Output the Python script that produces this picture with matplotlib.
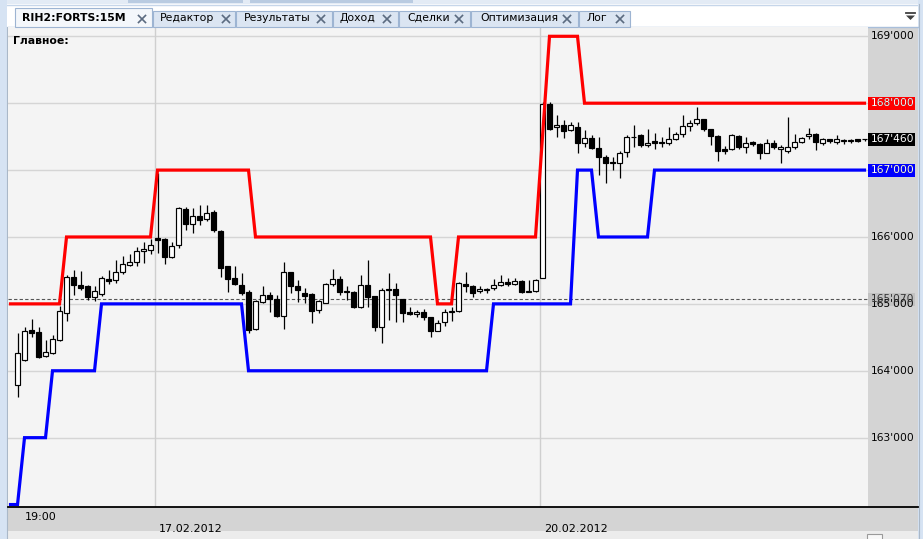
import numpy as np
import matplotlib
matplotlib.use("Agg")
import matplotlib.pyplot as plt
from matplotlib.patches import Rectangle, Polygon
from matplotlib.lines import Line2D

plt.rcParams['font.family'] = ['DejaVu Sans']

# ---------------- data ----------------
opens = [163780, 164160, 164610, 164580, 164220, 164260, 164460, 164870, 165400, 165280,
         165270, 165100, 165150, 165370, 165350, 165470, 165580, 165620, 165790, 165800,
         165990, 165970, 165700, 165880, 166420, 166190, 166310, 166270, 166370, 166090,
         165570, 165380, 165280, 165180, 164620, 165030, 165130, 165080, 164820, 165470,
         165270, 165170, 165150, 164910, 165020, 165290, 165370, 165190, 165180, 164960,
         165280, 165120, 164650, 165220, 165220, 165070, 164880, 164850, 164880, 164810,
         164600, 164730, 164880, 164900, 165290, 165270, 165190, 165210, 165230, 165280,
         165320, 165290, 165340, 165180, 165190, 165380, 167990, 167640, 167670, 167600,
         167650, 167410, 167480, 167330, 167200, 167120, 167100, 167270, 167490, 167530,
         167370, 167430, 167420, 167400, 167460, 167540, 167660, 167700, 167760, 167610,
         167510, 167310, 167310, 167510, 167340, 167420, 167390, 167260, 167410, 167320,
         167280, 167350, 167420, 167510, 167540, 167400, 167460, 167420, 167440, 167440,
         167460, 167460]
highs = [164560, 164650, 164770, 164660, 164460, 164530, 164970, 165430, 165500, 165490,
         165280, 165260, 165420, 165500, 165660, 165710, 165750, 165850, 165920, 165970,
         166950, 165980, 165930, 166450, 166450, 166440, 166480, 166480, 166400, 166100,
         165570, 165560, 165460, 165210, 165060, 165260, 165180, 165130, 165630, 165480,
         165360, 165230, 165160, 165060, 165310, 165520, 165410, 165260, 165190, 165430,
         165660, 165120, 165230, 165460, 165310, 165080, 164960, 164910, 164930, 164810,
         164760, 164930, 164960, 165320, 165480, 165280, 165260, 165230, 165370, 165430,
         165380, 165380, 165360, 165350, 165370, 168020, 168020, 167820, 167750, 167720,
         167720, 167600, 167530, 167500, 167230, 167200, 167280, 167530, 167670, 167540,
         167620, 167550, 167500, 167650, 167570, 167820, 167750, 167940, 167770, 167620,
         167520, 167360, 167540, 167520, 167500, 167440, 167400, 167470, 167450, 167380,
         167790, 167540, 167500, 167630, 167550, 167480, 167460, 167520, 167470, 167470,
         167460, 167470]
lows = [163610, 164140, 164510, 164190, 164210, 164250, 164440, 164740, 165130, 165210,
        165060, 165050, 165120, 165300, 165310, 165450, 165560, 165560, 165610, 165750,
        165760, 165600, 165690, 165830, 166100, 166060, 166180, 166240, 166080, 165400,
        165180, 165280, 165130, 164560, 164610, 165010, 164880, 164810, 164620, 165160,
        165030, 165010, 164720, 164860, 165010, 165260, 165140, 165060, 164940, 164940,
        164960, 164590, 164410, 164760, 164730, 164730, 164830, 164810, 164760, 164510,
        164590, 164670, 164750, 164880, 165180, 165110, 165160, 165160, 165210, 165260,
        165270, 165280, 165160, 165180, 165180, 165380, 167600, 167500, 167480, 167580,
        167260, 167340, 167310, 166930, 166800, 167000, 166880, 167200, 167350, 167350,
        167340, 167310, 167340, 167370, 167450, 167490, 167580, 167670, 167590, 167380,
        167130, 167240, 167300, 167310, 167250, 167360, 167170, 167250, 167310, 167110,
        167260, 167320, 167400, 167470, 167300, 167380, 167410, 167390, 167390, 167400,
        167420, 167440]
closes = [164260, 164600, 164570, 164210, 164280, 164470, 164890, 165400, 165280, 165240,
          165110, 165190, 165380, 165340, 165480, 165590, 165630, 165790, 165820, 165880,
          165960, 165700, 165870, 166430, 166190, 166310, 166250, 166360, 166100, 165540,
          165370, 165300, 165160, 164610, 165040, 165130, 165070, 164820, 165470, 165270,
          165200, 165120, 164900, 165040, 165300, 165370, 165180, 165180, 164960, 165280,
          165100, 164650, 165200, 165200, 165130, 164870, 164850, 164880, 164800, 164600,
          164710, 164880, 164900, 165310, 165260, 165170, 165220, 165220, 165280, 165320,
          165290, 165340, 165180, 165190, 165360, 167990, 167620, 167670, 167580, 167670,
          167400, 167480, 167330, 167190, 167100, 167100, 167260, 167500, 167500, 167370,
          167410, 167410, 167410, 167460, 167540, 167660, 167710, 167770, 167610, 167510,
          167290, 167290, 167520, 167340, 167410, 167390, 167260, 167410, 167340, 167350,
          167350, 167420, 167480, 167540, 167420, 167460, 167430, 167460, 167440, 167440,
          167440, 167460]

# channel lines start one bar before the first visible candle
channel_start = -1
upper_channel = [165000, 165000, 165000, 165000, 165000, 165000, 165000, 165000,
                 166000, 166000, 166000, 166000, 166000, 166000, 166000, 166000, 166000,
                 166000, 166000, 166000, 166000,
                 167000, 167000, 167000, 167000, 167000, 167000, 167000, 167000, 167000,
                 167000, 167000, 167000, 167000, 167000,
                 166000, 166000, 166000, 166000, 166000, 166000, 166000, 166000, 166000,
                 166000, 166000, 166000, 166000, 166000, 166000, 166000, 166000, 166000,
                 166000, 166000, 166000, 166000, 166000, 166000, 166000, 166000,
                 165000, 165000, 165000,
                 166000, 166000, 166000, 166000, 166000, 166000, 166000, 166000, 166000,
                 166000, 166000, 166000,
                 167500,
                 169000, 169000, 169000, 169000, 169000,
                 168000, 168000, 168000, 168000, 168000, 168000, 168000, 168000, 168000,
                 168000, 168000, 168000, 168000, 168000, 168000, 168000, 168000, 168000,
                 168000, 168000, 168000, 168000, 168000, 168000, 168000, 168000, 168000,
                 168000, 168000, 168000, 168000, 168000, 168000, 168000, 168000, 168000,
                 168000, 168000, 168000, 168000, 168000]
lower_channel = [162000, 162000,
                 163000, 163000, 163000, 163000,
                 164000, 164000, 164000, 164000, 164000, 164000, 164000,
                 165000, 165000, 165000, 165000, 165000, 165000, 165000, 165000, 165000,
                 165000, 165000, 165000, 165000, 165000, 165000, 165000, 165000, 165000,
                 165000, 165000, 165000,
                 164000, 164000, 164000, 164000, 164000, 164000, 164000, 164000, 164000,
                 164000, 164000, 164000, 164000, 164000, 164000, 164000, 164000, 164000,
                 164000, 164000, 164000, 164000, 164000, 164000, 164000, 164000, 164000,
                 164000, 164000, 164000, 164000, 164000, 164000, 164000, 164000,
                 165000, 165000, 165000, 165000, 165000, 165000, 165000, 165000, 165000,
                 165000, 165000, 165000,
                 167000, 167000, 167000,
                 166000, 166000, 166000, 166000, 166000, 166000, 166000, 166000,
                 167000, 167000, 167000, 167000, 167000, 167000, 167000, 167000, 167000,
                 167000, 167000, 167000, 167000, 167000, 167000, 167000, 167000, 167000,
                 167000, 167000, 167000, 167000, 167000, 167000, 167000, 167000, 167000,
                 167000, 167000, 167000, 167000]

price_ticks = [163000, 164000, 165000, 166000, 167000, 168000, 169000]
dashed_level = 165070
first_bar_label = "19:00"
day_starts = [20, 75]
day_labels = ["17.02.2012", "20.02.2012"]
tab_names = ["RIH2:FORTS:15M", "Редактор", "Результаты", "Доход", "Сделки", "Оптимизация", "Лог"]
panel_title = "Главное:"

# ---------------- layout ----------------
W, H = 923, 539
fig = plt.figure(figsize=(W / 100, H / 100), dpi=100)
fig.patch.set_facecolor('#ffffff')


def R(x0, y0, x1, y1, fc, ec='none', lw=0, z=0):
    r = Rectangle((x0 / W, 1 - y1 / H), (x1 - x0) / W, (y1 - y0) / H,
                  transform=fig.transFigure, facecolor=fc, edgecolor=ec,
                  linewidth=lw, zorder=z)
    fig.add_artist(r)
    return r


def L(x0, y0, x1, y1, c, lw=1, z=1):
    fig.add_artist(Line2D([x0 / W, x1 / W], [1 - y0 / H, 1 - y1 / H],
                          transform=fig.transFigure, color=c, linewidth=lw, zorder=z))


def T(x, y, s, **kw):
    fig.text(x / W, 1 - y / H, s, **kw)


# window frame & bands
R(0, 27, 923, 539, '#f0f0f0')
R(0, 0, 923, 27, '#ffffff')
R(0, 0, 923, 4, '#e3ebf5')
R(128, 0, 243, 3, '#b9cbe1')
R(250, 0, 413, 3, '#b9cbe1')
L(0, 4.5, 923, 4.5, '#c6d6ea', 1)
R(0, 0, 7, 539, '#d6e3f3', z=1)
L(7.5, 27, 7.5, 539, '#aab8c8', 0.8, 2)
R(918, 0, 923, 539, '#d6e3f3', z=1)
L(918.5, 4, 918.5, 539, '#aab8c8', 0.8, 2)
R(868, 27, 918, 507, '#d4d4d4', z=1)
R(8, 507, 918, 531, '#d4d4d4', z=1)
R(8, 531, 918, 539, '#ececec', z=1)
R(867, 534, 882, 545, '#f8f8f8', ec='#9a9a9a', lw=0.8, z=2)
L(8, 506.5, 918, 506.5, '#000000', 1.3, 3)
L(8, 26.5, 918, 26.5, '#a9bfdb', 1, 2)

# tabs
tab_bounds = [(15, 152), (153, 235), (236, 332), (333, 398), (399, 470), (471, 578), (579, 630)]
tab_text_x = [22, 160, 244, 340, 407, 480, 587]
tab_close_x = [142, 226, 321, 387, 459, 567, 620]
for k, name in enumerate(tab_names):
    x0, x1 = tab_bounds[k]
    active = (k == 0)
    top = 8.5 if active else 10.5
    R(x0, top, x1, 26.5, '#f4f7fb' if active else '#dbe5f2', ec='#9db4d2', lw=0.8, z=3)
    T(tab_text_x[k], 18, name, fontsize=7.8, fontweight='bold' if active else 'normal',
      va='center', ha='left', color='#000000', zorder=4)
    cx, cy = tab_close_x[k], 19
    L(cx - 3.5, cy - 3.5, cx + 3.5, cy + 3.5, '#5b6b80', 1.2, 4)
    L(cx - 3.5, cy + 3.5, cx + 3.5, cy - 3.5, '#5b6b80', 1.2, 4)
# dropdown icon
L(906, 13, 915, 13, '#404040', 1.3, 4)
fig.add_artist(Polygon([[906 / W, 1 - 15.5 / H], [915 / W, 1 - 15.5 / H], [910.5 / W, 1 - 20 / H]],
                       closed=True, transform=fig.transFigure, facecolor='#404040',
                       edgecolor='none', zorder=4))

# main axes
AX_L, AX_R, AX_T, AX_B = 8, 868, 27, 506.5
ax = fig.add_axes([AX_L / W, 1 - AX_B / H, (AX_R - AX_L) / W, (AX_B - AX_T) / H])
ax.set_zorder(2)
ax.set_facecolor('#f4f4f4')
for s in ax.spines.values():
    s.set_visible(False)
ax.set_xticks([])
ax.set_yticks([])
ax.set_xlim(-1.36, 121.5)
ax.set_ylim(161971, 169139)

# grid
for v in price_ticks:
    ax.axhline(v, color='#d5d5d5', lw=1.0, zorder=1)
for d in day_starts:
    ax.axvline(d - 0.3, color='#cfcfcf', lw=1.0, zorder=1)

ax.axhline(dashed_level, color='#555555', lw=0.8, ls=(0, (3, 2)), zorder=2)

# candles
o = np.array(opens, float)
h = np.array(highs, float)
lo = np.array(lows, float)
c = np.array(closes, float)
x = np.arange(len(o))
body_bottom = np.minimum(o, c)
body_h = np.maximum(np.abs(c - o), 12)
colors = np.where(c < o, '#000000', '#ffffff')
ax.vlines(x, lo, h, color='#000000', lw=0.9, zorder=3)
ax.bar(x, body_h, bottom=body_bottom, width=0.66, color=colors, edgecolor='#000000',
       linewidth=0.85, zorder=4)

# channel
cx_line = np.arange(channel_start, channel_start + len(upper_channel))
ax.plot(cx_line, upper_channel, color='#ff0000', lw=2.3, zorder=5, solid_joinstyle='miter')
ax.plot(cx_line, lower_channel, color='#0000ff', lw=2.3, zorder=5, solid_joinstyle='miter')

# right price scale
trans = ax.get_yaxis_transform()
xr_text = (871 - AX_L) / (AX_R - AX_L)
box_x1 = (915 - AX_L) / (AX_R - AX_L)
box_h = 13 * (169139 - 161971) / (AX_B - AX_T)


def fmt(v):
    v = int(round(v))
    return f"{v // 1000}'{v % 1000:03d}"


def box(v, fc, tc):
    ax.add_patch(Rectangle((1.0, v - box_h / 2), box_x1 - 1.0, box_h, transform=trans,
                           facecolor=fc, edgecolor='none', clip_on=False, zorder=6))
    ax.text(xr_text, v, fmt(v), transform=trans, fontsize=7.7, va='center', ha='left',
            color=tc, clip_on=False, zorder=7)


box(dashed_level, '#c2c2c2', '#333333')
for v in price_ticks:
    ax.text(xr_text, v, fmt(v), transform=trans, fontsize=7.7, va='center', ha='left',
            color='#000000', clip_on=False, zorder=6.5)
box(upper_channel[-1], '#ff0000', '#ffffff')
box(closes[-1], '#000000', '#ffffff')
box(lower_channel[-1], '#0000ff', '#ffffff')

# bottom time scale
ax.annotate(first_bar_label, xy=(0, 0), xycoords=('data', 'axes fraction'),
            xytext=(7.5, -11), textcoords='offset pixels', ha='left', va='center',
            fontsize=8, annotation_clip=False)
for d, lab in zip(day_starts, day_labels):
    ax.annotate(lab, xy=(d - 0.3, 0), xycoords=('data', 'axes fraction'),
                xytext=(3.5, -22.5), textcoords='offset pixels', ha='left', va='center',
                fontsize=8, annotation_clip=False)

# panel title
T(13, 41.5, panel_title, fontsize=7.8, fontweight='bold', va='center', ha='left', zorder=10)

fig.savefig('out.png', dpi=100)
